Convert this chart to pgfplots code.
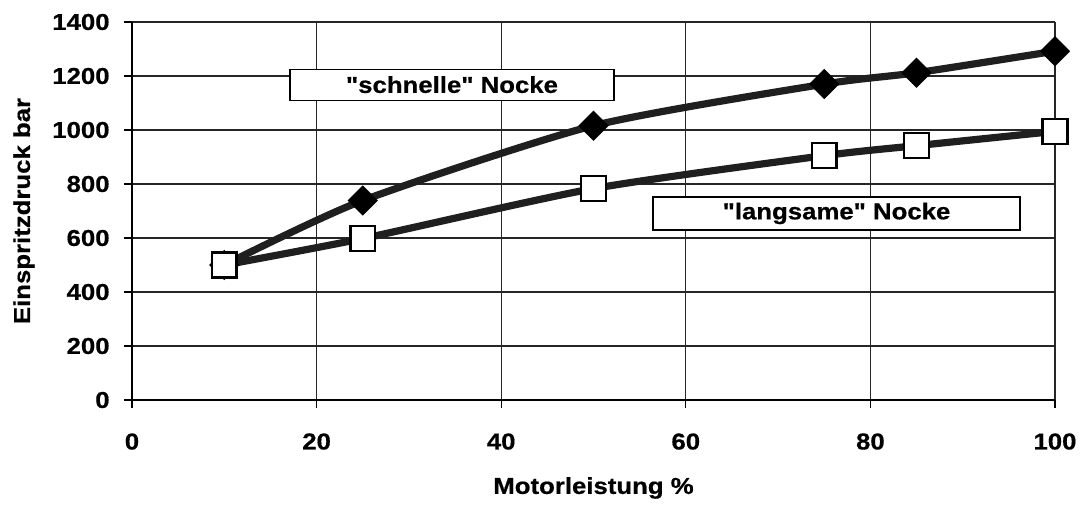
\documentclass[border=0pt]{standalone}
\usepackage{pgfplots}
\pgfplotsset{compat=1.18}
\usepackage{fontspec}
\setmainfont{Liberation Sans}[FakeStretch=1.12, FakeBold=0.6, Ligatures=TeXOff]
\begin{document}
\begin{tikzpicture}
\path[use as bounding box] (-66pt,-52pt) rectangle (475.5pt,200pt);
\begin{axis}[
  at={(0,0)}, anchor=south west,
  scale only axis,
  width=461.5pt, height=189pt,
  xmin=0, xmax=100, ymin=0, ymax=1400,
  xtick={0,20,...,100}, ytick={0,200,...,1400},
  axis lines=left,
  axis line style={-, line width=0.8pt, black},
  grid=major,
  major grid style={line width=0.6pt, black!85},
  tick align=outside,
  major tick length=4pt,
  tick style={line width=0.6pt, black},
  /pgf/number format/assume math mode=true,
  /pgf/number format/1000 sep={},
  tick label style={font=\bfseries\fontsize{11.5}{13}\selectfont},
  yticklabel style={anchor=east, inner sep=0pt, xshift=-7pt},
  xticklabel style={anchor=north, inner sep=0pt, yshift=-12.5pt},
  xlabel={Motorleistung \%},
  ylabel={Einspritzdruck bar},
  label style={font=\bfseries\fontsize{11.5}{13}\selectfont},
  xlabel style={at={(axis description cs:0.5,-0.2328)}, anchor=center},
  ylabel style={at={(axis description cs:-0.117,0.5)}, anchor=center, rotate=0},
  clip=false,
]
\addplot[black!88, line width=3.6pt, smooth, tension=0.4,
  mark=square*, mark size=5.1pt,
  mark options={rotate=45, fill=black, draw=black, line width=0.5pt}]
  coordinates {(10,500) (25,739) (50,1016) (75,1170) (85,1212) (100,1292)};
\addplot[black!88, line width=3.6pt, smooth, tension=0.4,
  mark=square*, mark size=6.2pt,
  mark options={fill=white, draw=black, line width=1.2pt}]
  coordinates {(10,500) (25,598) (50,783) (75,905) (85,942) (100,995)};
\node[draw=black, line width=0.6pt, fill=white, minimum width=162pt, minimum height=15.5pt,
  inner sep=0pt, font=\bfseries\fontsize{11.5}{13}\selectfont]
  at (axis cs:34.67,1168) {"schnelle" Nocke};
\node[draw=black, line width=0.6pt, fill=white, minimum width=183.5pt, minimum height=16.5pt,
  inner sep=0pt, font=\bfseries\fontsize{11.5}{13}\selectfont]
  at (axis cs:76.33,691) {"langsame" Nocke};
\end{axis}
\end{tikzpicture}
\end{document}
